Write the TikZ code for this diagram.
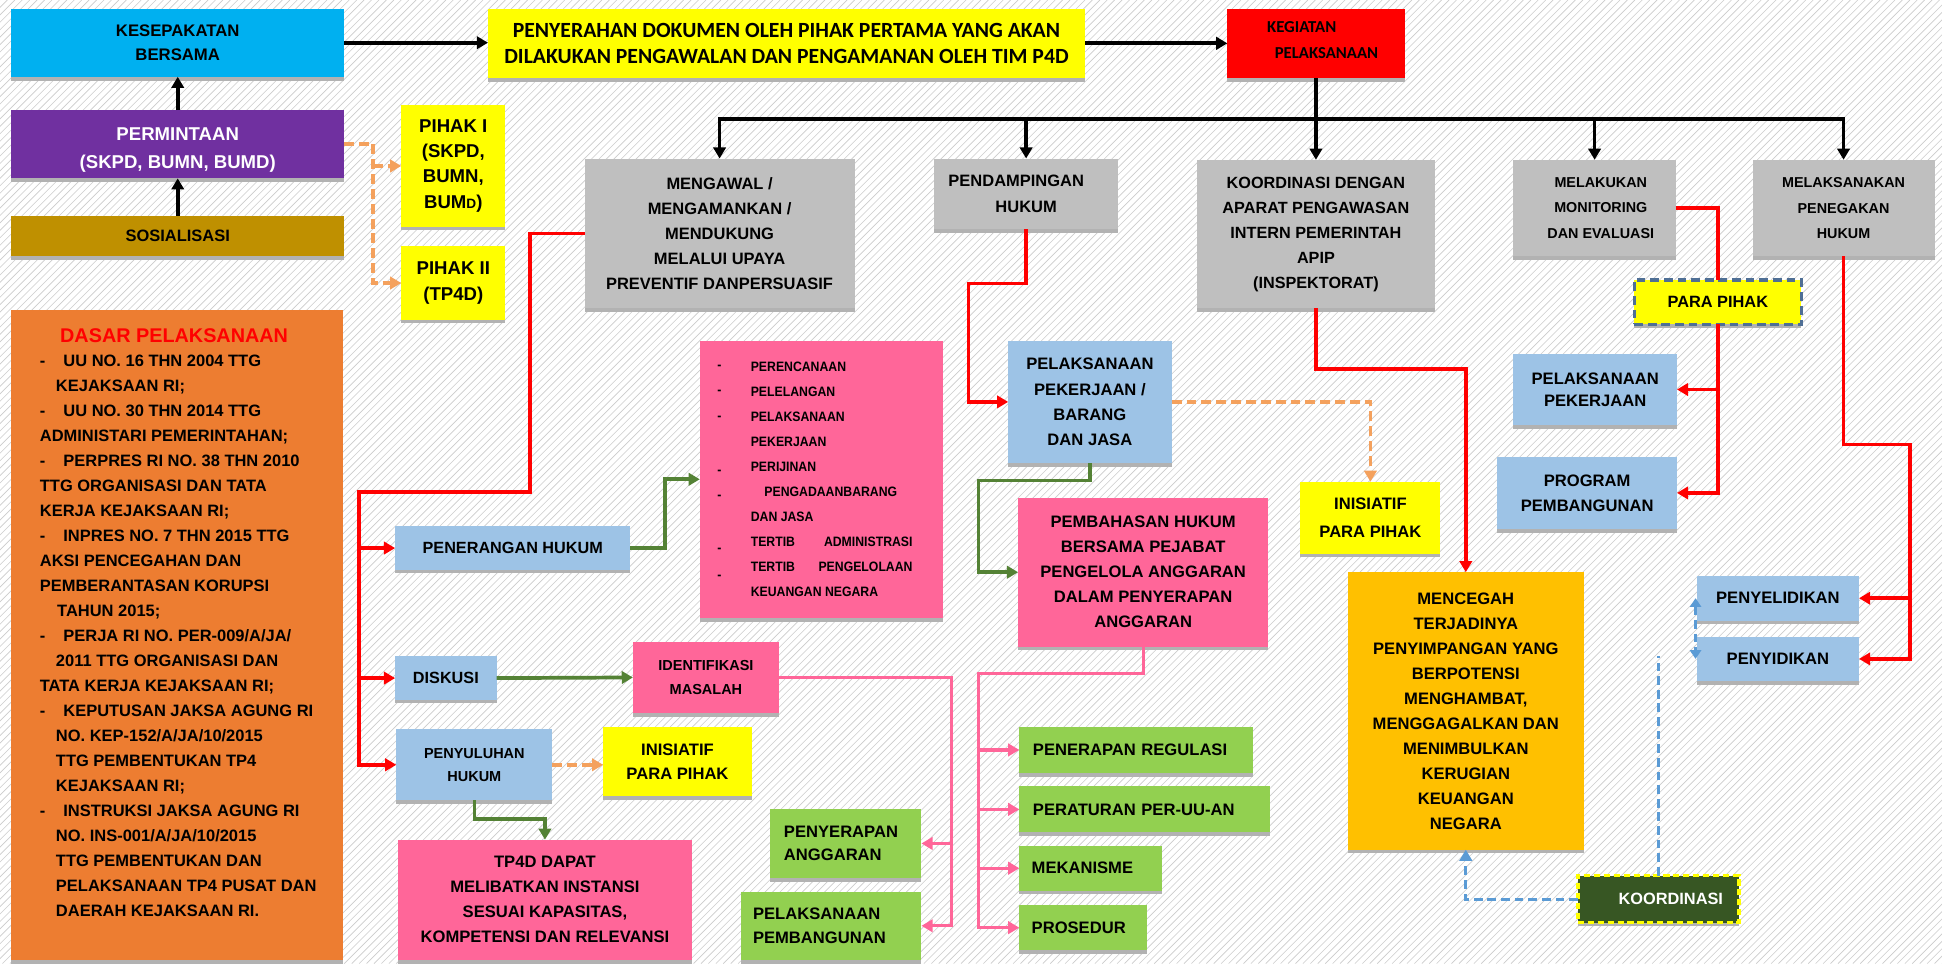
\documentclass[tikz,border=0pt]{standalone}
\usepackage{fontspec}
\setmainfont{Liberation Sans}
\newfontfamily\carl{Carlito}
\newfontfamily\narrowf[FakeStretch=0.9]{Liberation Sans}
\usetikzlibrary{arrows.meta,shadows,calc}
\newcommand\myfs[2]{\fontsize{#1}{#2}\selectfont}
\definecolor{cCyan}{HTML}{00B0F0}
\definecolor{cPurple}{HTML}{7030A0}
\definecolor{cGold}{HTML}{BF9000}
\definecolor{cYellow}{HTML}{FFFF00}
\definecolor{cRed}{HTML}{FF0000}
\definecolor{cGray}{HTML}{BFBFBF}
\definecolor{cOrange}{HTML}{ED7D31}
\definecolor{cBlue}{HTML}{9DC3E6}
\definecolor{cPink}{HTML}{FF6699}
\definecolor{cGreen}{HTML}{92D050}
\definecolor{cAmber}{HTML}{FFC000}
\definecolor{cDkGreen}{HTML}{375623}
\definecolor{lnGreen}{HTML}{548235}
\definecolor{lnOrange}{HTML}{F4A15D}
\definecolor{lnBlue}{HTML}{5B9BD5}
\definecolor{ppBorder}{HTML}{4F6F95}
\tikzset{
  bx/.style={rectangle, inner sep=0pt, outer sep=0pt, align=center,
    drop shadow={shadow xshift=0pt, shadow yshift=-3pt, opacity=1, fill=black!30}},
  sz/.style 2 args={minimum width=#1, minimum height=#2},
  tA/.style={font=\bfseries\myfs{13.3}{20.2}},
  tB/.style={font=\bfseries\myfs{11.6}{20.4}},
  dl/.style={anchor=base west, inner sep=0pt, font=\bfseries\myfs{13.3}{16}},
  ll/.style={anchor=base west, inner sep=0pt, font=\narrowf\bfseries\myfs{11}{13}},
  tip/.style={-{Triangle[width=10pt,length=9pt]}},
  blk/.style={line width=3pt, draw=black},
  rl/.style={line width=3pt, draw=cRed},
  gl/.style={line width=3pt, draw=lnGreen},
  pl/.style={line width=2.6pt, draw=cPink},
  od/.style={line width=3pt, draw=lnOrange, dash pattern=on 8pt off 4pt},
  bd/.style={line width=2.6pt, draw=lnBlue, dash pattern=on 7pt off 4pt},
  hatch/.style={draw=black!20, line width=0.5pt}
}
\begin{document}
\begin{tikzpicture}[x=1pt,y=-1pt]
\useasboundingbox (0,0) rectangle (1568,778);
\fill[white] (0,0) rectangle (1568,778);
\begin{scope}
\clip (0,0) rectangle (1568,778);
\foreach \i in {-784,-778,...,1568} \draw[hatch] (\i,778) -- ({\i+778},0);
\end{scope}

% ---------- top left column ----------
\node[bx, fill=cCyan, sz={269pt}{55pt}, font=\bfseries\myfs{13.5}{18.6}] (kes) at (143.5,34.5) {KESEPAKATAN\\BERSAMA};
\node[bx, fill=cPurple, sz={269pt}{55pt}, text=white, font=\bfseries\myfs{15}{23}] (perm) at (143.5,116.5) {\rule{0pt}{20pt}PERMINTAAN\\(SKPD, BUMN, BUMD)};
\node[bx, fill=cGold, sz={269pt}{33pt}, font=\bfseries\myfs{13.3}{16}] (sos) at (143.5,190.5) {SOSIALISASI};
\draw[blk,tip] (sos.north) -- (perm.south);
\draw[blk,tip] (perm.north) -- (kes.south);

\node[bx, fill=cYellow, sz={84pt}{98pt}, font=\bfseries\myfs{15}{20.3}] (p1) at (366,134) {PIHAK I\\(SKPD,\\BUMN,\\BUM{\myfs{11}{11}D})};
\node[bx, fill=cYellow, sz={84pt}{59pt}, font=\bfseries\myfs{15}{20.3}] (p2) at (366,228.5) {PIHAK II\\(TP4D)};
\coordinate (oj) at (301,116.5);
\draw[od] (perm.east) -- (oj);
\draw[od,tip] (oj) |- (p2.west);
\draw[od,tip] (oj |- p1.west) -- (p1.west);

% ---------- top row ----------
\node[bx, fill=cYellow, sz={482pt}{56pt}, font=\carl\bfseries\myfs{17.5}{21.5}] (pen) at (635,35) {PENYERAHAN DOKUMEN OLEH PIHAK PERTAMA YANG AKAN\\DILAKUKAN PENGAWALAN DAN PENGAMANAN OLEH TIM P4D};
\node[bx, fill=cRed, sz={143pt}{56pt}] (keg) at (1062.5,35) {};
\node[inner sep=0pt, align=center, font=\carl\bfseries\myfs{13.5}{21}] (kegt) at (1062,32) {KEGIATAN\hspace*{22pt}\mbox{}\\\mbox{}\hspace*{18pt}PELAKSANAAN};
\draw[blk,tip] (kes.east) -- (kes.east -| pen.west);
\draw[blk,tip] (pen.east) -- (keg.west);

% ---------- gray row ----------
\node[bx, fill=cGray, sz={218pt}{121pt}, tA] (mgw) at (581,188.5) {MENGAWAL /\\MENGAMANKAN /\\MENDUKUNG\\MELALUI UPAYA\\PREVENTIF DANPERSUASIF};
\node[bx, fill=cGray, sz={149pt}{57pt}, font=\bfseries\myfs{13.3}{21}] (pdp) at (828.5,156.5) {PENDAMPINGAN\hspace*{16pt}\mbox{}\\HUKUM};
\node[bx, fill=cGray, sz={192pt}{120pt}, font=\bfseries\myfs{13.1}{20.2}] (koo) at (1062.5,189) {KOORDINASI DENGAN\\APARAT PENGAWASAN\\INTERN PEMERINTAH\\APIP\\(INSPEKTORAT)};
\node[bx, fill=cGray, sz={131pt}{78pt}, tB] (mel) at (1287.5,168) {\mbox{}\hspace*{10pt}MELAKUKAN\\\mbox{}\hspace*{10pt}MONITORING\\\mbox{}\hspace*{10pt}DAN EVALUASI};
\node[bx, fill=cGray, sz={147pt}{78pt}, tB] (mlk) at (1488.5,168) {MELAKSANAKAN\\PENEGAKAN\\HUKUM};

\coordinate (bus) at (1062.5,96);
\draw[blk, line cap=rect] (mgw.north |- bus) -- (mlk.north |- bus);
\draw[blk] (keg.south) -- (bus);
\draw[blk,tip] (bus) -- (koo.north);
\draw[blk,tip] (mgw.north |- bus) -- (mgw.north);
\draw[blk,tip] (pdp.north |- bus) -- (pdp.north);
\draw[blk,tip] (mel.north |- bus) -- (mel.north);
\draw[blk,tip] (mlk.north |- bus) -- (mlk.north);

% ---------- DASAR PELAKSANAAN ----------
\node[bx, fill=cOrange, sz={268pt}{525pt}] (dsr) at (143.2,512.5) {};
\node[inner sep=0pt, text=cRed, font=\bfseries\myfs{16}{16}] (dsrt) at (140.6,271) {DASAR PELAKSANAAN};
\foreach \xx/\tt [count=\k from 0] in {
  51/{UU NO. 16 THN 2004 TTG},
  45/{KEJAKSAAN RI;},
  51/{UU NO. 30 THN 2014 TTG},
  32/{ADMINISTARI PEMERINTAHAN;},
  51/{PERPRES RI NO. 38 THN 2010},
  32/{TTG ORGANISASI DAN TATA},
  32/{KERJA KEJAKSAAN RI;},
  51/{INPRES NO. 7 THN 2015 TTG},
  32/{AKSI PENCEGAHAN DAN},
  32/{PEMBERANTASAN KORUPSI},
  46/{TAHUN 2015;},
  51/{PERJA RI NO. PER-009/A/JA/},
  45/{2011 TTG ORGANISASI DAN},
  32/{TATA KERJA KEJAKSAAN RI;},
  51/{KEPUTUSAN JAKSA AGUNG RI},
  45/{NO. KEP-152/A/JA/10/2015},
  45/{TTG PEMBENTUKAN TP4},
  45/{KEJAKSAAN RI;},
  51/{INSTRUKSI JAKSA AGUNG RI},
  45/{NO. INS-001/A/JA/10/2015},
  45/{TTG PEMBENTUKAN DAN},
  45/{PELAKSANAAN TP4 PUSAT DAN},
  45/{DAERAH KEJAKSAAN RI.}}
  \node[dl] (dl\k) at (\xx,{296.3+20.18*\k}) {\tt};
\foreach \k in {0,2,4,7,11,14,18}
  \node[dl] (dd\k) at (32,{296.3+20.18*\k}) {-};

% ---------- MENGAWAL branch ----------
\node[bx, fill=cBlue, sz={190pt}{35pt}, font=\bfseries\myfs{13.1}{16}] (pnh) at (414,442.5) {PENERANGAN HUKUM};
\node[bx, fill=cBlue, sz={82pt}{35pt}, font=\bfseries\myfs{13.1}{16}] (dsk) at (360,547.5) {DISKUSI};
\node[bx, fill=cBlue, sz={126pt}{57pt}, font=\bfseries\myfs{11.7}{18.6}] (pny) at (383,617.5) {PENYULUHAN\\HUKUM};
\coordinate (r1) at (428,397);
\coordinate (r2) at (290,397);
\draw[rl,tip] (mgw.west) -| (r1) -- (r2) |- (pny.west);
\draw[rl,tip] (r2 |- pnh.west) -- (pnh.west);
\draw[rl,tip] (r2 |- dsk.west) -- (dsk.west);

\node[bx, fill=cPink, sz={196pt}{224pt}] (lst) at (663,387) {};
\foreach \xx/\tt [count=\k from 0] in {
  606/{PERENCANAAN}, 606/{PELELANGAN}, 606/{PELAKSANAAN}, 606/{PEKERJAAN},
  606/{PERIJINAN}, 617/{PENGADAANBARANG}, 606/{DAN JASA}, 606/{TERTIB},
  606/{TERTIB}, 606/{KEUANGAN NEGARA}}
  \node[ll] (ls\k) at (\xx,{300+20.2*\k}) {\tt};
\node[ll, anchor=base east] (lsa) at (737,441.4) {ADMINISTRASI};
\node[ll, anchor=base east] (lsb) at (737,461.6) {PENGELOLAAN};
\foreach \k/\dy in {0/-2,1/-2,2/-1,4/2,5/2,7/5,8/6}
  \node[ll] (lm\k) at (579,{300+20.2*\k+\dy}) {-};
\coordinate (g1) at (537,442.5);
\draw[gl,tip] (pnh.east) -- (g1) |- (lst.west);

\node[bx, fill=cPink, sz={118pt}{58pt}, font=\bfseries\myfs{11.7}{20}] (idn) at (570,547) {IDENTIFIKASI\\MASALAH};
\draw[gl,tip] (dsk.east) -- (idn.west);

\node[bx, fill=cYellow, sz={120pt}{56pt}, font=\bfseries\myfs{13.4}{19.5}] (ini2) at (547,615) {INISIATIF\\PARA PIHAK};
\draw[od,tip] (pny.east) -- (pny.east -| ini2.west);

\node[bx, fill=cPink, sz={238pt}{97pt}, font=\bfseries\myfs{13.4}{20.2}] (tp4) at (440,726.5) {TP4D DAPAT\\MELIBATKAN INSTANSI\\SESUAI KAPASITAS,\\KOMPETENSI DAN RELEVANSI};
\draw[gl,tip] (pny.south) -- ++(0,15) -| (tp4.north);

\node[bx, fill=cGreen, sz={122pt}{56pt}, align=left, text width=100pt, inner xsep=11pt, font=\bfseries\myfs{13.4}{19}] (ppa) at (683,681) {PENYERAPAN\\ANGGARAN};
\node[bx, fill=cGreen, sz={146pt}{55pt}, align=left, text width=126pt, inner xsep=10pt, font=\bfseries\myfs{13.4}{19.5}] (ppb) at (671,747.5) {PELAKSANAAN\\PEMBANGUNAN};
\coordinate (k1) at (768,547);
\draw[pl,tip] (idn.east) -- (k1) |- (ppb.east);
\draw[pl,tip] (k1 |- ppa.east) -- (ppa.east);

% ---------- PENDAMPINGAN branch ----------
\node[bx, fill=cBlue, sz={132pt}{99pt}, font=\bfseries\myfs{13.4}{20.3}] (pk) at (880,324.5) {PELAKSANAAN\\PEKERJAAN /\\BARANG\\DAN JASA};
\coordinate (r3) at (782,229);
\draw[rl,tip] (pdp.south) |- (r3) |- (pk.west);

\node[bx, fill=cYellow, sz={113pt}{58pt}, font=\bfseries\myfs{13.4}{22}] (ini1) at (1106.5,418) {INISIATIF\\PARA PIHAK};
\draw[od,tip] (pk.east) -| (ini1.north);

\node[bx, fill=cPink, sz={202pt}{120pt}, font=\bfseries\myfs{13.4}{20.2}] (pbh) at (923,462) {PEMBAHASAN HUKUM\\BERSAMA PEJABAT\\PENGELOLA ANGGARAN\\DALAM PENYERAPAN\\ANGGARAN};
\coordinate (g2) at (790,388);
\draw[gl,tip] (pk.south) |- (g2) |- (pbh.west);

\node[bx, fill=cGreen, sz={189pt}{37pt}, align=left, text width=167pt, inner xsep=11pt, font=\bfseries\myfs{13.4}{16}] (reg) at (917.5,605.5) {PENERAPAN REGULASI};
\node[bx, fill=cGreen, sz={202pt}{37pt}, align=left, text width=180pt, inner xsep=11pt, font=\bfseries\myfs{13.4}{16}] (per) at (924,653.5) {PERATURAN PER-UU-AN};
\node[bx, fill=cGreen, sz={115pt}{36pt}, align=left, text width=95pt, inner xsep=10pt, font=\bfseries\myfs{13.4}{16}] (mek) at (880.5,701) {MEKANISME};
\node[bx, fill=cGreen, sz={103pt}{36pt}, align=left, text width=83pt, inner xsep=10pt, font=\bfseries\myfs{13.4}{16}] (pro) at (874.5,749) {PROSEDUR};
\coordinate (k2) at (790,544);
\draw[pl,tip] (pbh.south) |- (k2) |- (pro.west);
\draw[pl,tip] (k2 |- reg.west) -- (reg.west);
\draw[pl,tip] (k2 |- per.west) -- (per.west);
\draw[pl,tip] (k2 |- mek.west) -- (mek.west);

% ---------- KOORDINASI branch ----------
\node[bx, fill=cAmber, sz={191pt}{224pt}, font=\bfseries\myfs{13.4}{20.2}] (mcg) at (1183.5,574) {MENCEGAH\\TERJADINYA\\PENYIMPANGAN YANG\\BERPOTENSI\\MENGHAMBAT,\\MENGGAGALKAN DAN\\MENIMBULKAN\\KERUGIAN\\KEUANGAN\\NEGARA};
\draw[rl,tip] (koo.south) -- ++(0,49) -| (mcg.north);

% ---------- MONITORING branch ----------
\node[bx, fill=cYellow, sz={135pt}{36pt}, draw=ppBorder, line width=2.8pt, dash pattern=on 7pt off 4pt, font=\bfseries\myfs{13.2}{16}] (pp) at (1387,244) {PARA PIHAK};
\draw[rl] (mel.east) -| (pp.north);
\node[bx, fill=cBlue, sz={132pt}{57pt}, font=\bfseries\myfs{13.4}{18}] (pkj) at (1288,314.5) {PELAKSANAAN\\PEKERJAAN};
\node[bx, fill=cBlue, sz={145pt}{58pt}, font=\bfseries\myfs{13.4}{20.3}] (prg) at (1281.5,398) {PROGRAM\\PEMBANGUNAN};
\draw[rl,tip] (pp.south) |- (prg.east);
\draw[rl,tip] (pp.south |- pkj.east) -- (pkj.east);

% ---------- PENEGAKAN HUKUM branch ----------
\node[bx, fill=cBlue, sz={131pt}{36pt}, font=\bfseries\myfs{13.4}{16}] (pyl) at (1435.5,483) {PENYELIDIKAN};
\node[bx, fill=cBlue, sz={131pt}{36pt}, font=\bfseries\myfs{13.4}{16}] (pyd) at (1435.5,532) {PENYIDIKAN};
\coordinate (r5) at (1542,359);
\draw[rl,tip] (mlk.south) |- (r5) |- (pyd.east);
\draw[rl,tip] (r5 |- pyl.east) -- (pyl.east);
\draw[bd,{Triangle[width=9pt,length=7pt]}-{Triangle[width=9pt,length=7pt]}] ([xshift=-1pt]pyl.west) -- ([xshift=-1pt]pyd.west);

% ---------- KOORDINASI (bottom) ----------
\node[bx, fill=cDkGreen, sz={130pt}{38pt}, draw=cYellow, line width=2.8pt, dash pattern=on 5pt off 3pt, text=white, font=\bfseries\myfs{13.2}{16}] (kor) at (1339,726) {\mbox{}\hspace*{20pt}KOORDINASI};
\coordinate (bfree) at (1339,530);
\draw[bd] (kor.north) -- (bfree);
\draw[bd,tip] (kor.west) -| (mcg.south);
\end{tikzpicture}
\end{document}
